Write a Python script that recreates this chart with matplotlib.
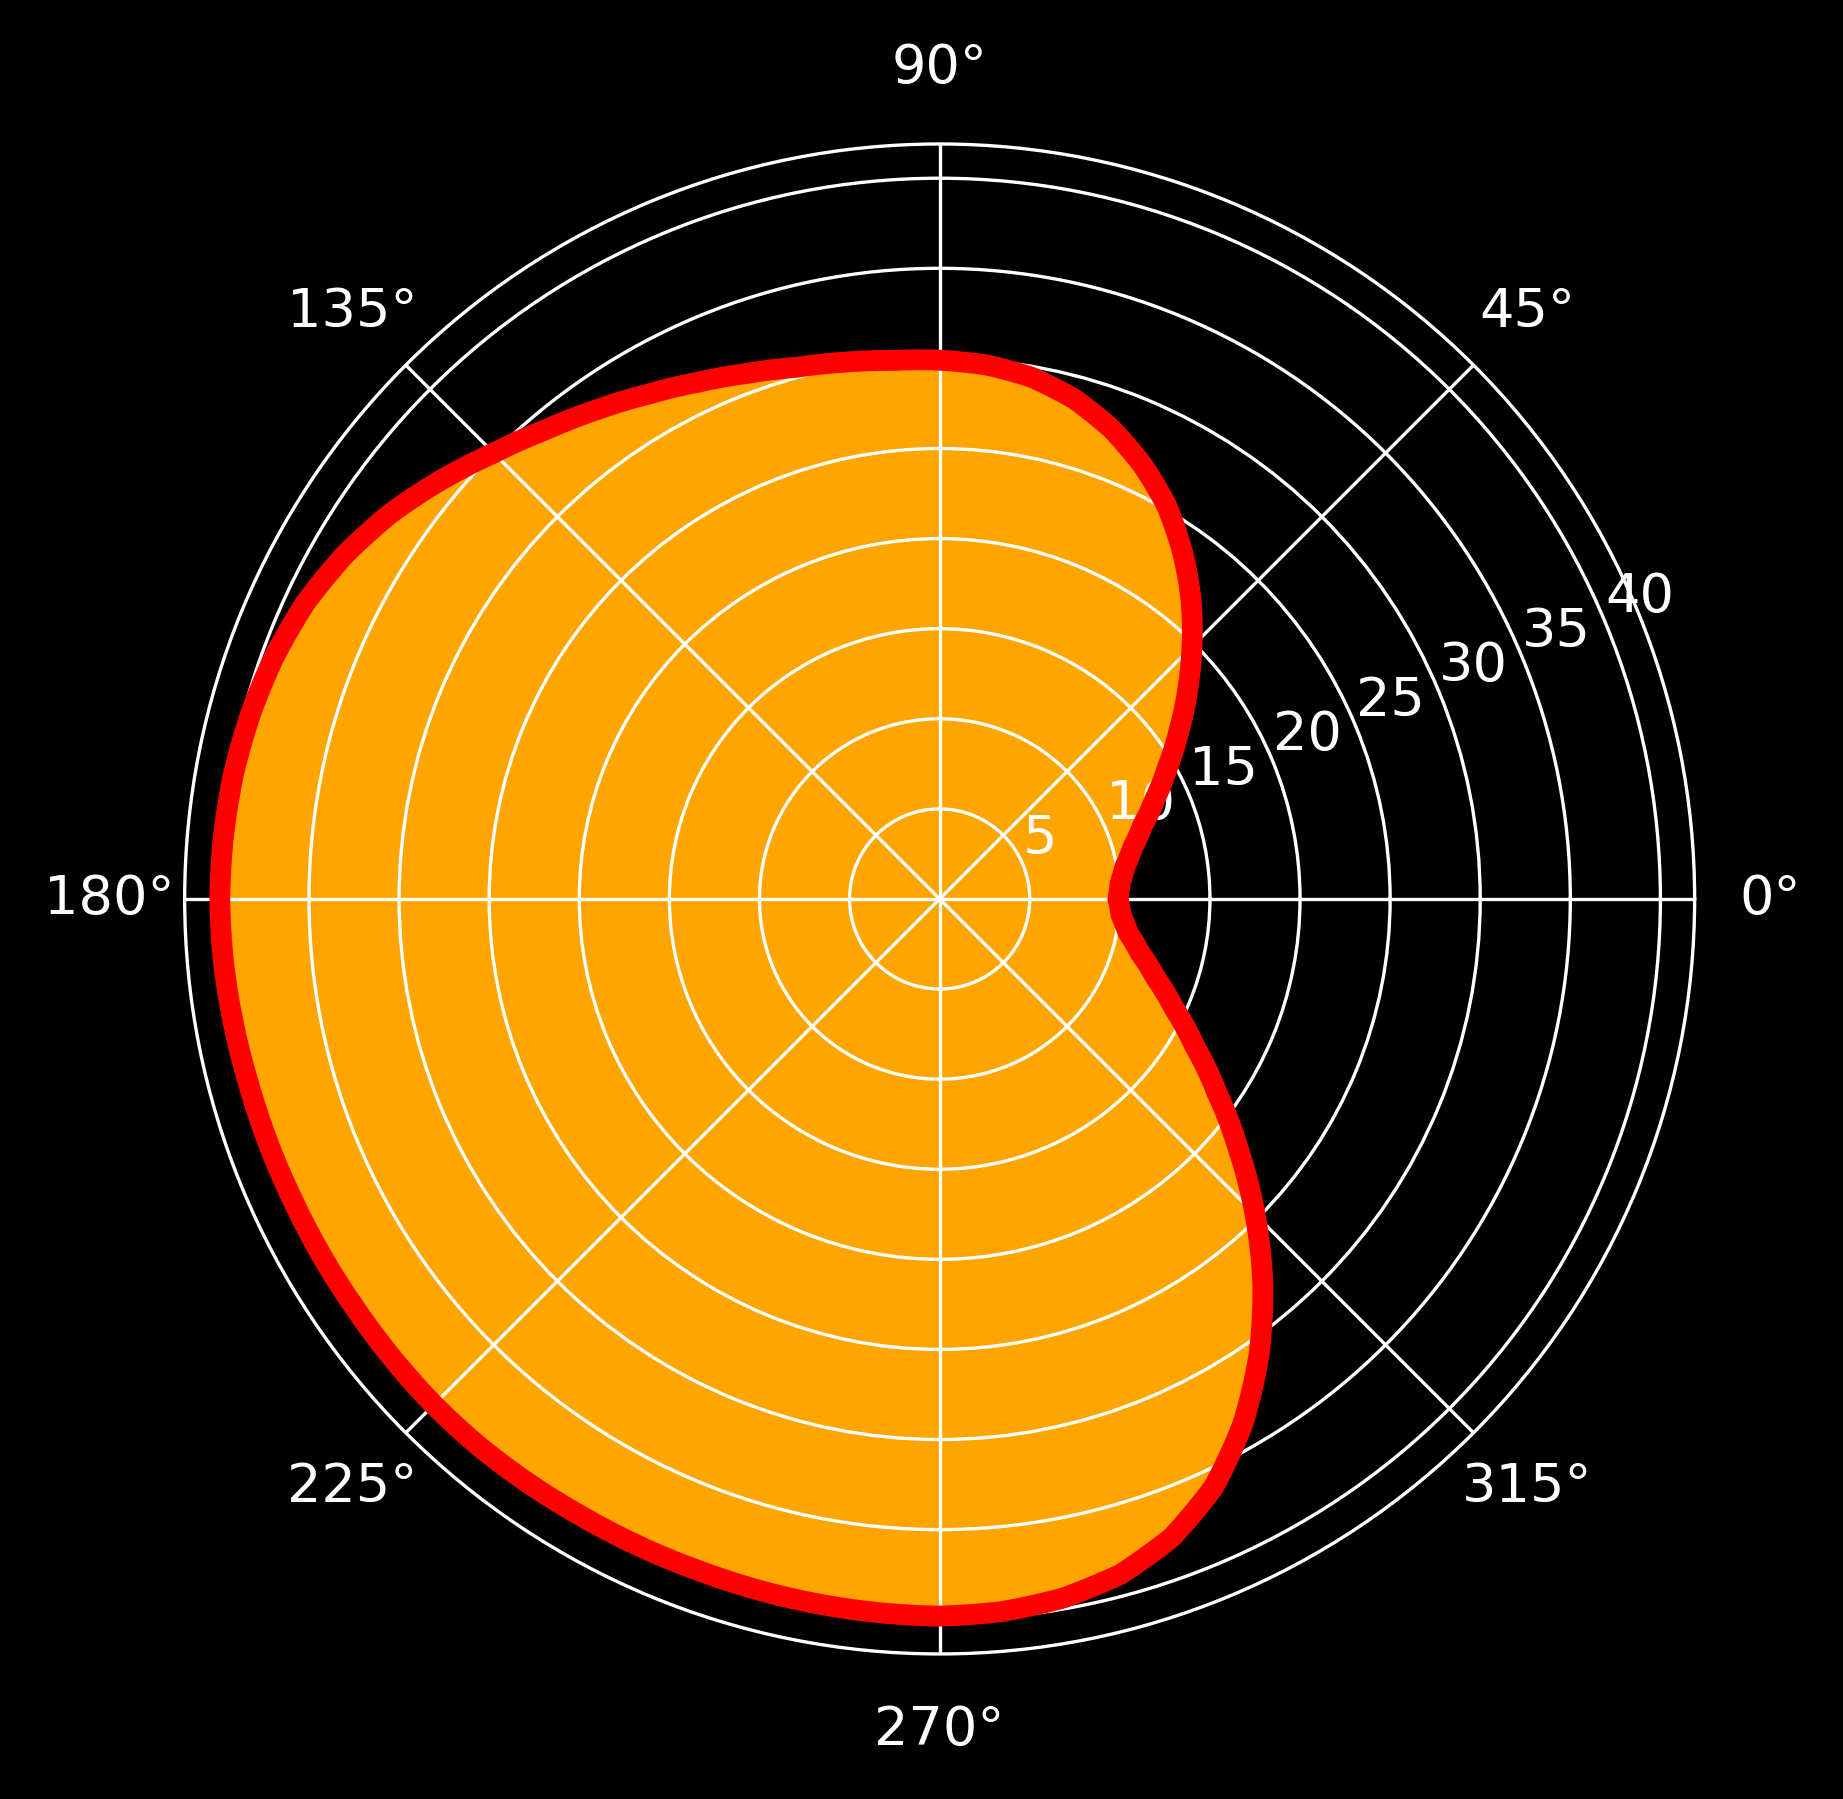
import numpy as np
import matplotlib
matplotlib.use("Agg")
from matplotlib import pyplot as plt

# Angles (degrees) and radii, every 5 degrees
angle_deg = [0, 5, 10, 15, 20, 25, 30, 35, 40, 45, 50, 55, 60, 65, 70, 75, 80, 85,
             90, 95, 100, 105, 110, 115, 120, 125, 130, 135, 140, 145, 150, 155, 160, 165,
             170, 175, 180, 185, 190, 195, 200, 205, 210, 215, 220, 225, 230, 235, 240, 245,
             250, 255, 260, 265, 270, 275, 280, 285, 290, 295, 300, 305, 310, 315, 320, 325,
             330, 335, 340, 345, 350, 355, 360]
radius = [9.9, 10.05, 10.45, 11.1, 12.0, 13.2, 14.6, 16.2, 17.95, 19.8, 21.7, 23.5, 25.2, 26.6,
          27.8, 28.75, 29.4, 29.75, 29.9, 30.0, 30.25, 30.55, 31.05, 31.65, 32.35, 33.15, 34.0,
          35.0, 36.15, 37.25, 38.15, 38.85, 39.3, 39.6, 39.8, 39.9, 39.95, 39.9, 39.8, 39.7,
          39.65, 39.6, 39.6, 39.6, 39.65, 39.7, 39.7, 39.65, 39.6, 39.6, 39.6, 39.65, 39.7,
          39.75, 39.8, 39.7, 39.4, 38.8, 37.7, 36.0, 33.65, 30.9, 27.9, 24.75, 21.65, 18.8,
          16.35, 14.35, 12.75, 11.5, 10.6, 10.1, 9.9]

r_ticks = [5, 10, 15, 20, 25, 30, 35, 40]
r_max = 41.9

plt.style.use('dark_background')
plt.rcParams['font.size'] = 13

fig = plt.figure(figsize=(1843 / 300, 1799 / 300), dpi=300)
ax = fig.add_axes([0.1002, 0.0806, 0.8193, 0.8394], projection='polar')

theta = np.deg2rad(angle_deg)
ax.fill(theta, radius, color='orange')
line, = ax.plot(theta, radius, color='red', linewidth=5, solid_capstyle='round')
# let the polar transform draw the segments as curves in (theta, r)
line.get_path()._interpolation_steps = 20

ax.set_ylim(0, r_max)
ax.set_yticks(r_ticks)
ax.tick_params(axis='x', pad=7.7)

fig.savefig('out.png', dpi=300)
